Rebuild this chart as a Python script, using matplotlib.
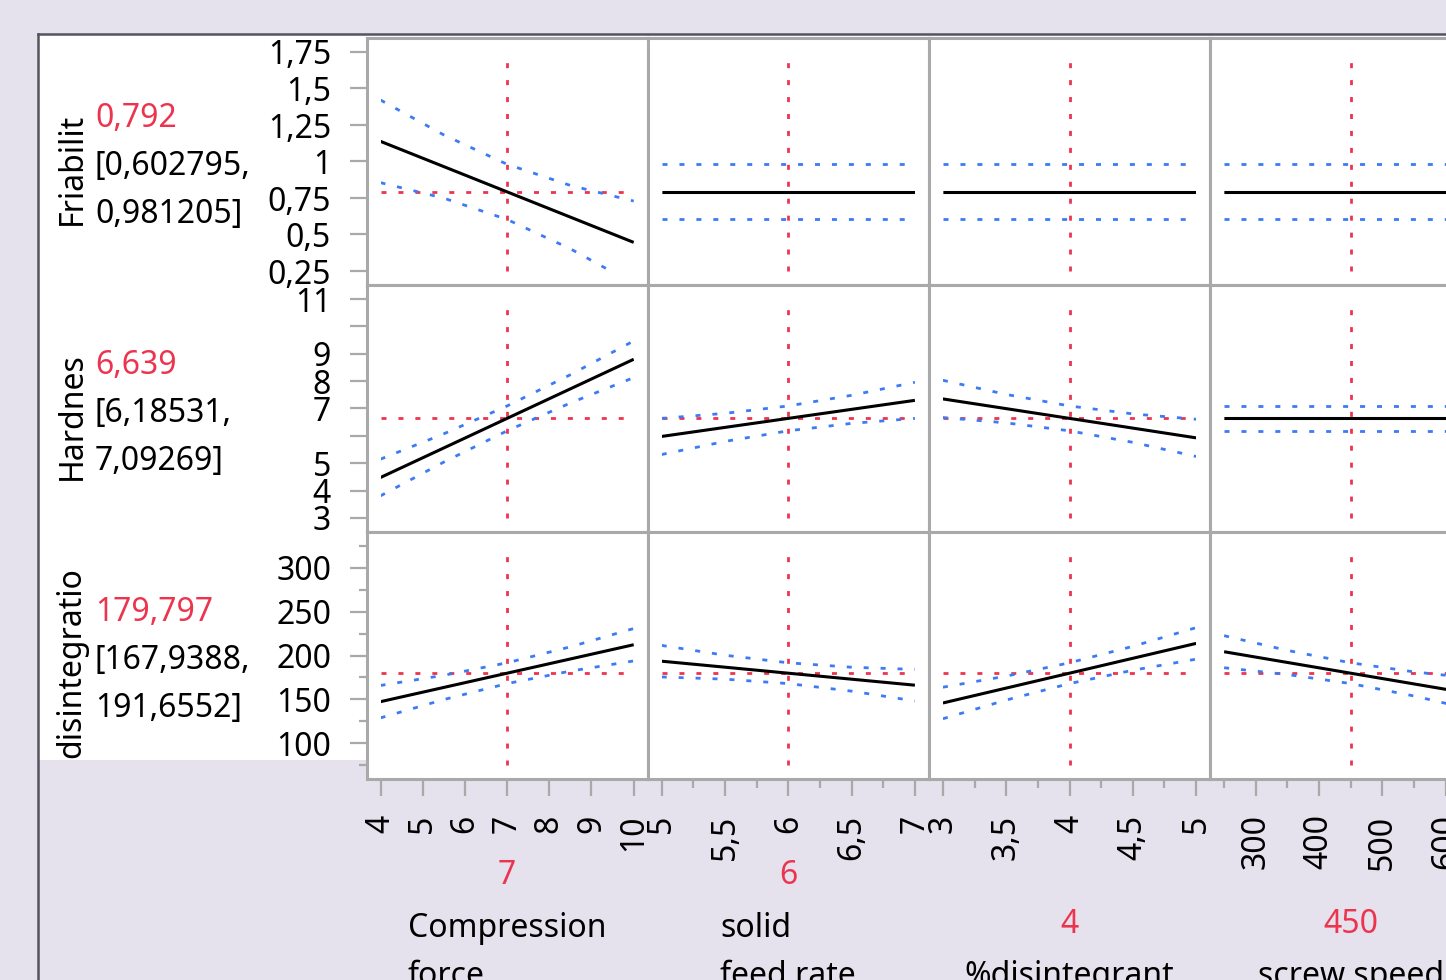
import matplotlib
matplotlib.use("Agg")
import matplotlib.pyplot as plt
from matplotlib.patches import Rectangle
from matplotlib.lines import Line2D

# ---------------- data ----------------
factor_names = ["Compression\nforce", "solid\nfeed rate", "%disintegrant", "screw speed"]
factor_current = [7, 6, 4, 450]
factor_lo = [4, 5, 3, 250]
factor_hi = [10, 7, 5, 650]
x_samples = [[4, 5.5, 7, 8.5, 10],
             [5, 5.5, 6, 6.5, 7],
             [3, 3.5, 4, 4.5, 5],
             [250, 350, 450, 550, 650]]

response_names = ["Friabilit", "Hardnes", "disintegratio"]
response_current = [0.792, 6.639, 179.797]
response_ci_lo = ["0,602795", "6,18531", "167,9388"]
response_ci_hi = ["0,981205", "7,09269", "191,6552"]
response_value_text = ["0,792", "6,639", "179,797"]

# Friability: prediction / upper / lower per factor
friab_pred = [[1.138, 0.965, 0.792, 0.619, 0.446],
              [0.792, 0.792, 0.792, 0.792, 0.792],
              [0.792, 0.792, 0.792, 0.792, 0.792],
              [0.792, 0.792, 0.792, 0.792, 0.792]]
friab_upper = [[1.421, 1.182, 0.981, 0.836, 0.729],
               [0.981, 0.981, 0.981, 0.981, 0.981],
               [0.981, 0.981, 0.981, 0.981, 0.981],
               [0.981, 0.981, 0.981, 0.981, 0.981]]
friab_lower = [[0.855, 0.749, 0.603, 0.402, 0.163],
               [0.603, 0.603, 0.603, 0.603, 0.603],
               [0.603, 0.603, 0.603, 0.603, 0.603],
               [0.603, 0.603, 0.603, 0.603, 0.603]]

# Hardness
hard_pred = [[4.48, 5.559, 6.639, 7.718, 8.798],
             [5.98, 6.31, 6.639, 6.969, 7.298],
             [7.35, 6.995, 6.639, 6.284, 5.928],
             [6.639, 6.639, 6.639, 6.639, 6.639]]
hard_upper = [[5.15, 6.075, 7.093, 8.234, 9.468],
              [6.64, 6.823, 7.093, 7.482, 7.958],
              [8.03, 7.514, 7.093, 6.803, 6.608],
              [7.093, 7.093, 7.093, 7.093, 7.093]]
hard_lower = [[3.81, 5.043, 6.185, 7.202, 8.128],
              [5.32, 5.797, 6.185, 6.456, 6.638],
              [6.67, 6.475, 6.185, 5.764, 5.248],
              [6.185, 6.185, 6.185, 6.185, 6.185]]

# Disintegration time
disint_pred = [[147.3, 163.55, 179.8, 196.05, 212.3],
               [193.5, 186.65, 179.8, 172.95, 166.1],
               [145.8, 162.8, 179.8, 196.8, 213.8],
               [204.3, 192.05, 179.8, 167.55, 155.3]]
disint_upper = [[165.8, 177.4, 191.66, 209.9, 230.8],
                [211.5, 200.3, 191.66, 186.6, 184.1],
                [163.8, 176.45, 191.66, 210.45, 231.8],
                [222.6, 205.8, 191.66, 181.3, 173.6]]
disint_lower = [[128.8, 149.7, 167.94, 182.2, 193.8],
                [175.5, 173.0, 167.94, 159.3, 148.1],
                [127.8, 149.15, 167.94, 183.15, 195.8],
                [186.0, 178.3, 167.94, 153.8, 137.0]]

pred_rows = [friab_pred, hard_pred, disint_pred]
upper_rows = [friab_upper, hard_upper, disint_upper]
lower_rows = [friab_lower, hard_lower, disint_lower]

# axis ranges and ticks
y_range = [(0.25, 1.75), (3, 11), (75, 325)]
y_major = [[0.25, 0.5, 0.75, 1, 1.25, 1.5, 1.75],
           [3, 4, 5, 6, 7, 8, 9, 10, 11],
           [100, 150, 200, 250, 300]]
y_labels = [["0,25", "0,5", "0,75", "1", "1,25", "1,5", "1,75"],
            ["3", "4", "5", "", "7", "8", "9", "", "11"],
            ["100", "150", "200", "250", "300"]]
y_minor = [[], [], [75, 125, 175, 225, 275, 325]]

x_major = [[4, 5, 6, 7, 8, 9, 10],
           [5, 5.5, 6, 6.5, 7],
           [3, 3.5, 4, 4.5, 5],
           [300, 400, 500, 600]]
x_labels = [["4", "5", "6", "7", "8", "9", "10"],
            ["5", "5,5", "6", "6,5", "7"],
            ["3", "3,5", "4", "4,5", "5"],
            ["300", "400", "500", "600"]]
x_minor = [[],
           [5.25, 5.75, 6.25, 6.75],
           [3.25, 3.75, 4.25, 4.75],
           [250, 350, 450, 550, 650]]
factor_value_text = ["7", "6", "4", "450"]

# ---------------- style ----------------
W, H = 1446, 980
BG = "#E5E1ED"
FRAME = "#A9A9A9"
RED = "#EC344E"
BLUE = "#3D7BF5"
FONT = "Noto Sans"
FS = 23
plt.rcParams["font.family"] = [FONT, "DejaVu Sans"]
plt.rcParams["lines.scale_dashes"] = False
DOT = (3.6, 8.6)

def fx(x):
    return x / W

def fy(y):
    return 1 - y / H

fig = plt.figure(figsize=(W / 100, H / 100), dpi=100, facecolor=BG)

# white panel and border
fig.add_artist(Rectangle((fx(39), fy(760)), 1.2, fy(35) - fy(760),
                         transform=fig.transFigure, facecolor="white",
                         edgecolor="none", zorder=0))
fig.add_artist(Line2D([fx(38), fx(38)], [fy(34), -0.05], color="#54545E",
                      lw=1.8, transform=fig.transFigure, zorder=1))
fig.add_artist(Line2D([fx(38), 1.05], [fy(34), fy(34)], color="#54545E",
                      lw=1.8, transform=fig.transFigure, zorder=1))

col_w = 281.2
row_h = 247
x0 = 366.5
y0 = 38
mx = 14 / 253
my = 14 / 219

for r in range(3):
    ylo, yhi = y_range[r]
    yspan = yhi - ylo
    for c in range(4):
        left = x0 + c * col_w
        top = y0 + r * row_h
        ax = fig.add_axes([fx(left), fy(top + row_h), col_w / W, row_h / H])
        ax.set_facecolor("white")
        xlo, xhi = factor_lo[c], factor_hi[c]
        xspan = xhi - xlo
        ax.set_xlim(xlo - mx * xspan, xhi + mx * xspan)
        ax.set_ylim(ylo - my * yspan, yhi + my * yspan)
        for s in ax.spines.values():
            s.set_color(FRAME)
            s.set_linewidth(2.2)

        clip = Rectangle((xlo, ylo), xspan, yspan, transform=ax.transData)

        # current-value reference lines
        ax.plot([factor_current[c], factor_current[c]], [ylo, yhi], color=RED,
                lw=2.0, dashes=DOT, zorder=2)
        ax.plot([xlo, xhi], [response_current[r], response_current[r]], color=RED,
                lw=2.0, dashes=DOT, zorder=2)
        # confidence bands
        for band in (upper_rows[r][c], lower_rows[r][c]):
            ln, = ax.plot(x_samples[c], band, color=BLUE, lw=2.0, dashes=DOT, zorder=3)
            ln.set_clip_path(clip)
        # prediction
        ln, = ax.plot(x_samples[c], pred_rows[r][c], color="black", lw=2.2,
                      solid_capstyle="butt", zorder=4)
        ln.set_clip_path(clip)

        # ticks
        if c == 0:
            ax.set_yticks(y_major[r])
            ax.set_yticklabels(y_labels[r])
            ax.set_yticks(y_minor[r], minor=True)
            ax.tick_params(axis="y", which="major", direction="out", length=12.5,
                           width=1.6, color=FRAME, pad=13, labelsize=FS)
            ax.tick_params(axis="y", which="minor", direction="out", length=6,
                           width=1.6, color=FRAME)
        else:
            ax.set_yticks([])
            ax.set_yticks([], minor=True)
        if r == 2:
            ax.set_xticks(x_major[c])
            ax.set_xticklabels(x_labels[c], rotation=90)
            ax.set_xticks(x_minor[c], minor=True)
            ax.tick_params(axis="x", which="major", direction="out", length=12.5,
                           width=1.6, color=FRAME, pad=13, labelsize=FS)
            ax.tick_params(axis="x", which="minor", direction="out", length=6.5,
                           width=1.6, color=FRAME)
        else:
            ax.set_xticks([])
            ax.set_xticks([], minor=True)

# left response labels
for r in range(3):
    top = y0 + r * row_h
    fig.text(fx(72), fy(top + 131), response_names[r], rotation=90,
             ha="center", va="center", fontsize=FS, color="black")
    fig.text(fx(95), fy(top + 80.5), response_value_text[r], ha="left",
             va="center", fontsize=FS, color=RED)
    fig.text(fx(94), fy(top + 128.5), "[" + response_ci_lo[r] + ",", ha="left",
             va="center", fontsize=FS, color="black")
    fig.text(fx(95), fy(top + 176.5), response_ci_hi[r] + "]", ha="left",
             va="center", fontsize=FS, color="black")

# factor labels below
for c in range(4):
    cx = x0 + c * col_w + col_w / 2
    nlines = factor_names[c].count("\n") + 1
    fig.text(fx(cx), fy(972 - 48 * nlines), factor_value_text[c], ha="center",
             va="center", fontsize=FS, color=RED)
    # va="baseline" aligns the baseline of the last line
    fig.text(fx(cx), fy(985), factor_names[c],
             ha="center", va="baseline", multialignment="left",
             linespacing=1.6, fontsize=FS, color="black")

fig.savefig("out.png", dpi=100, facecolor=BG)
